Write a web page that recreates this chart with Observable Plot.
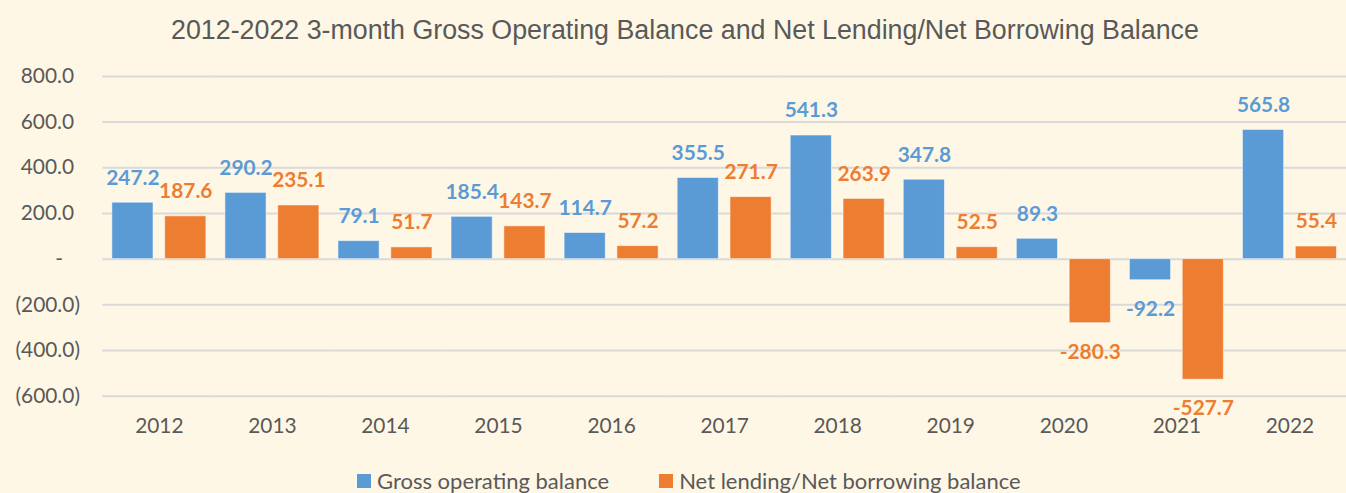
<!DOCTYPE html>
<html>
<head>
<meta charset="utf-8">
<script src="https://cdn.jsdelivr.net/npm/d3@7"></script>
<script src="https://cdn.jsdelivr.net/npm/@observablehq/plot@0.6"></script>
<style>
  html, body { margin: 0; padding: 0; background: #FFF7E5; overflow: hidden; width: 1346px; height: 493px; }
  #wrap { position: relative; width: 1346px; height: 493px; overflow: hidden; }
  #title { position: absolute; left: 0; top: 14px; width: 1370px; text-align: center;
    font-family: "Liberation Sans", Arial, sans-serif; font-size: 26.8px; color: #595959; line-height: 32px; white-space: nowrap; }
  #chart { position: absolute; left: 0; top: 60px; }
  #legend { position: absolute; left: 357px; top: 468px; font-family: Lato, sans-serif; font-size: 22px; color: #595959;
    display: flex; align-items: center; white-space: nowrap; line-height: 26px; }
  .sw { display: inline-block; width: 14px; height: 14px; margin-right: 6px; }
  .item { display: flex; align-items: center; }
</style>
</head>
<body>
<div id="wrap">
  <div id="title"></div>
  <div id="chart"></div>
  <div id="legend"></div>
</div>
<script>
const titleText = "2012-2022 3-month Gross Operating Balance and Net Lending/Net Borrowing Balance";
const years = ["2012","2013","2014","2015","2016","2017","2018","2019","2020","2021","2022"];
const seriesNames = ["Gross operating balance", "Net lending/Net borrowing balance"];
const seriesColors = ["#5B9BD5", "#ED7D31"];
const grossOperating = [247.2, 290.2, 79.1, 185.4, 114.7, 355.5, 541.3, 347.8, 89.3, -92.2, 565.8];
const netLending = [187.6, 235.1, 51.7, 143.7, 57.2, 271.7, 263.9, 52.5, -280.3, -527.7, 55.4];
const yTicks = [-600, -400, -200, 0, 200, 400, 600, 800];

document.getElementById("title").textContent = titleText;

const rows = [];
years.forEach((yr, i) => {
  rows.push({year: yr, series: seriesNames[0], value: grossOperating[i]});
  rows.push({year: yr, series: seriesNames[1], value: netLending[i]});
});

const fmt = v => v.toFixed(1);
const axisFont = {fontFamily: "Lato, sans-serif", fontSize: 21, fill: "#595959"};

const chart = Plot.plot({
  width: 1355,
  height: 395,
  marginLeft: 103,
  marginRight: 0,
  marginTop: 16,
  marginBottom: 57,
  style: {background: "transparent", overflow: "visible"},
  fx: {domain: years, padding: 0, round: false, label: null},
  x: {domain: seriesNames, paddingInner: 0.22, paddingOuter: 0.18, round: false, axis: null},
  y: {domain: [-600, 800], axis: null, label: null},
  color: {domain: seriesNames, range: seriesColors},
  marks: [
    Plot.ruleY(yTicks, {stroke: "#D9D9D9", strokeWidth: 2}),
    Plot.barY(rows, {fx: "year", x: "series", y: "value", fill: "series", stroke: "#ffffff", strokeOpacity: 0.55, strokeWidth: 1}),
    Plot.text(rows.filter(d => d.value >= 0), {fx: "year", x: "series", y: "value", text: d => fmt(d.value), fill: "series",
      dy: -25, fontFamily: "Lato, sans-serif", fontSize: 21, fontWeight: "bold"}),
    Plot.text(rows.filter(d => d.value < 0), {fx: "year", x: "series", y: "value", text: d => fmt(d.value), fill: "series",
      dy: 29, fontFamily: "Lato, sans-serif", fontSize: 21, fontWeight: "bold"}),
    Plot.axisY(yTicks.filter(v => v > 0), {tickSize: 0, tickPadding: 23, dx: -6, label: null, tickFormat: v => fmt(v), ...axisFont}),
    Plot.axisY(yTicks.filter(v => v === 0), {tickSize: 0, tickPadding: 23, dx: -17, label: null, tickFormat: () => "-", ...axisFont}),
    Plot.axisY(yTicks.filter(v => v < 0), {tickSize: 0, tickPadding: 23, label: null, tickFormat: v => "(" + fmt(-v) + ")", ...axisFont}),
    Plot.axisFx({anchor: "bottom", tickSize: 0, tickPadding: 22, label: null, ...axisFont})
  ]
});
document.getElementById("chart").appendChild(chart);

const legend = document.getElementById("legend");
seriesNames.forEach((name, i) => {
  const item = document.createElement("span");
  item.className = "item";
  if (i > 0) item.style.marginLeft = "50px";
  const sw = document.createElement("span");
  sw.className = "sw";
  sw.style.background = seriesColors[i];
  item.appendChild(sw);
  item.appendChild(document.createTextNode(name));
  legend.appendChild(item);
});
</script>
</body>
</html>
